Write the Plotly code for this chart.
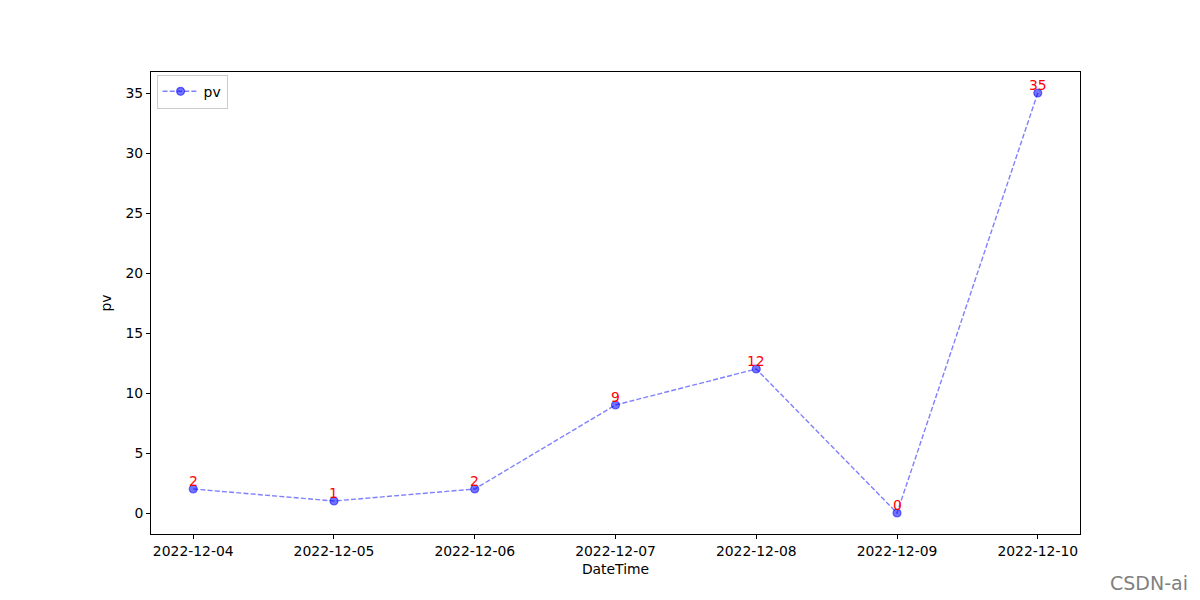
import plotly.graph_objects as go

dates = ["2022-12-04", "2022-12-05", "2022-12-06", "2022-12-07", "2022-12-08", "2022-12-09", "2022-12-10"]
pv = [2, 1, 2, 9, 12, 0, 35]
y_ticks = [0, 5, 10, 15, 20, 25, 30, 35]

fig = go.Figure()
fig.add_trace(go.Scatter(
    x=dates, y=pv, mode="lines+markers", name="pv",
    line=dict(color="rgba(0,0,255,0.5)", width=1.4, dash="5px,2.2px"),
    marker=dict(color="rgba(0,0,255,0.55)", size=8, line=dict(width=1.2, color="rgba(0,0,255,0.5)")),
))

for d, v in zip(dates, pv):
    fig.add_annotation(x=d, y=v, text=str(v), showarrow=False, yanchor="bottom",
                       xanchor="center", yshift=-2,
                       font=dict(color="red", size=13.9, family="DejaVu Sans"))

fig.add_annotation(x=1.0, y=0.0, xref="paper", yref="paper", text="CSDN-ai", showarrow=False,
                   xanchor="right", yanchor="bottom", xshift=110, yshift=-62,
                   font=dict(color="#808080", size=19, family="DejaVu Sans"))

axis_common = dict(showline=True, linecolor="black", linewidth=1, mirror=True,
                   ticks="outside", ticklen=4, tickcolor="black", showgrid=False, zeroline=False,
                   tickfont=dict(size=13.9, color="black", family="DejaVu Sans"))

fig.update_layout(
    width=1192, height=592,
    paper_bgcolor="white", plot_bgcolor="white",
    margin=dict(l=143, r=120, t=64, b=66),
    font=dict(family="DejaVu Sans", size=13.9, color="black"),
    xaxis=dict(type="category", range=[-0.3, 6.3], title=dict(text="DateTime", standoff=6, font=dict(size=13.9)), **axis_common),
    yaxis=dict(range=[-1.75, 36.75], tickvals=y_ticks, title=dict(text="pv", standoff=10, font=dict(size=13.9)), **axis_common),
    legend=dict(x=0.006, y=0.994, xanchor="left", yanchor="top", bordercolor="#cccccc", borderwidth=1,
                bgcolor="white", font=dict(size=13.9), tracegroupgap=0, itemwidth=36),
    showlegend=True,
)

fig.write_html("out.html")
